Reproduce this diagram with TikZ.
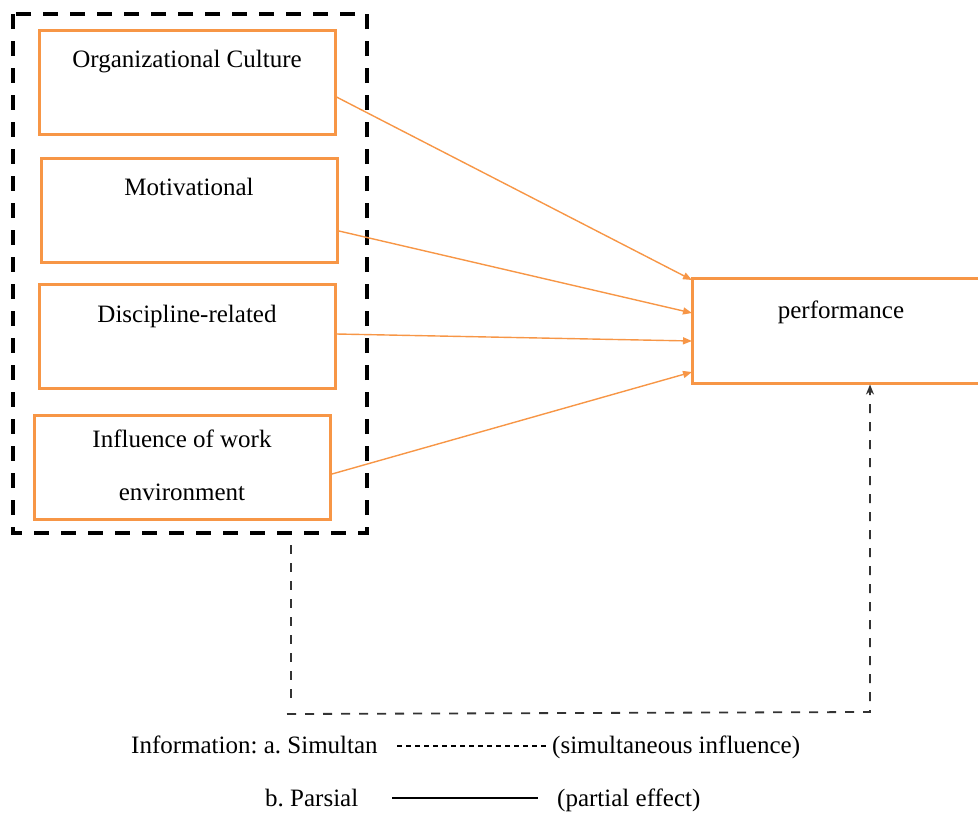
\documentclass[tikz,border=0pt]{standalone}
\usepackage{fontspec}
\setmainfont{Liberation Serif}
\usetikzlibrary{arrows.meta}
\definecolor{orng}{HTML}{F79646}
\frenchspacing
\begin{document}
\begin{tikzpicture}[x=1pt,y=-1pt,
  box/.style={draw=orng,line width=3pt,minimum width=296pt,minimum height=104pt,inner sep=0pt},
  lbl/.style={font=\fontsize{25}{30}\selectfont,inner sep=0pt,anchor=base},
  conn/.style={draw=orng,line width=1.4pt,-{Triangle[length=9pt,width=7pt]}},
  simul/.style={draw=black!80,line width=1.8pt,dash pattern=on 9pt off 9pt},
  legtxt/.style={font=\fontsize{25}{30}\selectfont,inner sep=0pt,anchor=base west}]
\useasboundingbox (0,0) rectangle (978,812);
% outer dashed group
\draw[line width=4pt,dash pattern=on 15pt off 12pt] (13,14) rectangle (367,533);
% boxes
\node[box] (oc) at (187,82) {};
\node[box] (mo) at (189.5,210.5) {};
\node[box] (di) at (187,336.5) {};
\node[box] (we) at (182.5,467) {};
\node[draw=orng,line width=3pt,minimum width=300pt,minimum height=105pt,inner sep=0pt] (pe) at (842,330.5) {};
% labels
\node[lbl] (toc) at (187,67) {Organizational Culture};
\node[lbl] (tmo) at (189,195) {Motivational};
\node[lbl] (tdi) at (187,322) {Discipline-related};
\node[lbl] (twe1) at (182,447) {Influence of work};
\node[lbl] (twe2) at (182,500) {environment};
\node[lbl] (tpe) at (841,318) {performance};
% connectors
\draw[conn] (oc.east |- 0,97) -- (692,280);
\draw[conn] (mo.east |- 0,231) -- (692,313);
\draw[conn] (di.east |- 0,334) -- (692,341);
\draw[conn] (we.east |- 0,474) -- (692,372);
% simultaneous feedback
\coordinate (s1) at (291,545);
\coordinate (s2) at (291,699);
\coordinate (s3) at (287,714);
\coordinate (s4) at (870,712);
\draw[simul] (s1) -- (s2);
\draw[simul,-{Stealth[length=10pt,width=8pt]}] (s3) -- (s4) -- (pe.south -| s4);
% legend
\node[legtxt] (l1) at (131,753) {Information: a. Simultan};
\coordinate (d1) at (397,746);
\coordinate (d2) at (547,746);
\draw[line width=1.2pt,dash pattern=on 5pt off 4pt] (d1) -- (d2);
\node[legtxt] (l2) at (552,753) {(simultaneous influence)};
\node[legtxt] (l3) at (265,806) {b. Parsial};
\coordinate (p1) at (392,798);
\coordinate (p2) at (538,798);
\draw[line width=1.2pt] (p1) -- (p2);
\node[legtxt] (l4) at (557,806) {(partial effect)};
\end{tikzpicture}
\end{document}
